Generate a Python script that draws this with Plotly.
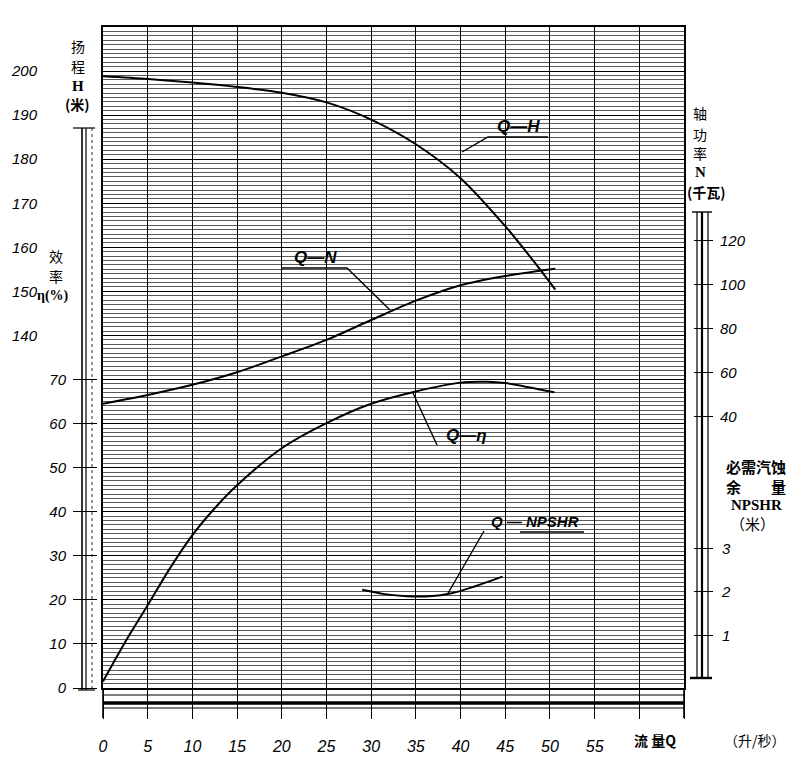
import plotly.graph_objects as go

# ---------------- data ----------------
Q_H = [0, 5, 10, 15, 20, 25, 30, 35, 40, 45, 48, 50.6]
H_m = [198.8, 198.2, 197.4, 196.4, 195.1, 192.9, 189.0, 183.4, 175.7, 164.8, 157.3, 150.4]

Q_N = [0, 5, 10, 15, 20, 25, 30, 35, 40, 45, 50.6]
N_kw = [46.0, 50.0, 54.6, 60.3, 67.5, 75.0, 84.0, 92.8, 99.8, 104.0, 107.3]

Q_eta = [0, 2.5, 5, 7.5, 10, 12.5, 15, 20, 25, 30, 35, 40, 43, 45, 50.5]
eta_pct = [1.5, 10.5, 18.8, 27.2, 34.7, 40.8, 46.0, 54.4, 60.1, 64.5, 67.3, 69.3, 69.5, 69.2, 67.1]

Q_npsh = [29, 31.5, 34, 36.5, 39, 41.5, 44.7]
NPSHR_m = [2.05, 1.95, 1.9, 1.9, 1.97, 2.12, 2.35]

x_ticks = [0, 5, 10, 15, 20, 25, 30, 35, 40, 45, 50, 55, 60, 65]
x_ticktext = ["0", "5", "10", "15", "20", "25", "30", "35", "40", "45", "50", "55", "", ""]
eta_ticks = [0, 10, 20, 30, 40, 50, 60, 70]
H_ticks = [140, 150, 160, 170, 180, 190, 200]
N_ticks = [40, 60, 80, 100, 120]
npsh_ticks = [1, 2, 3]

# ---------------- layout helpers ----------------
W, HGT = 800, 768
X0, X1 = 103, 684      # plot area, pixels
PT, PB = 27, 688


def px(x):
    return x / W


def py(y):
    return (PB - y) / (PB - PT)


HAND = "Liberation Sans"
CJK = "Noto Sans CJK SC"

fig = go.Figure()
line_style = dict(color="black", width=2, shape="spline", smoothing=0.8)
# base axis carries the efficiency data invisibly so that its grid is drawn
fig.add_trace(go.Scatter(x=Q_eta, y=eta_pct, mode="lines", line=dict(width=0, color="rgba(0,0,0,0)"),
                         yaxis="y", hoverinfo="skip", name="grid"))
fig.add_trace(go.Scatter(x=Q_eta, y=eta_pct, mode="lines", line=line_style, yaxis="y2", name="Q-η"))
fig.add_trace(go.Scatter(x=Q_H, y=H_m, mode="lines", line=line_style, yaxis="y3", name="Q-H"))
fig.add_trace(go.Scatter(x=Q_N, y=N_kw, mode="lines", line=line_style, yaxis="y4", name="Q-N"))
fig.add_trace(go.Scatter(x=Q_npsh, y=NPSHR_m, mode="lines", line=line_style, yaxis="y5", name="Q-NPSHR"))

tick_font = dict(family=HAND, size=15, color="black", style="italic")

fig.update_layout(
    template="none",
    width=W, height=HGT,
    margin=dict(l=0, r=0, t=PT, b=HGT - PB, pad=0, autoexpand=False),
    paper_bgcolor="white", plot_bgcolor="rgba(0,0,0,0)",
    showlegend=False,
    xaxis=dict(domain=[px(X0), px(X1)], range=[0, 65], tickvals=x_ticks, ticktext=x_ticktext,
               showgrid=True, gridcolor="black", gridwidth=1.3, automargin=False,
               ticks="outside", ticklen=29, tickwidth=1, tickcolor="black",
               ticklabelstandoff=14, tickfont=dict(family=HAND, size=16, color="black", style="italic"),
               showline=True, mirror=True, linecolor="black", linewidth=2, zeroline=False),
    yaxis=dict(range=[0, 150], dtick=10, showticklabels=False, ticks="",
               showgrid=True, gridcolor="black", gridwidth=1.4, automargin=False,
               minor=dict(dtick=1, showgrid=True, gridcolor="#5a5a5a", gridwidth=0.7),
               showline=True, mirror=True, linecolor="black", linewidth=2, zeroline=False),
    yaxis2=dict(overlaying="y", range=[0, 150], anchor="free", position=px(97), side="left",
                tickvals=eta_ticks, ticks="outside", ticklen=24, tickwidth=1, tickcolor="black",
                ticklabelstandoff=4,
                tickfont=tick_font, showgrid=False, showline=False, zeroline=False, automargin=False),
    yaxis3=dict(overlaying="y", range=[60, 210], anchor="free", position=px(97), side="left",
                tickvals=H_ticks, ticks="outside", ticklen=57, tickcolor="rgba(0,0,0,0)",
                tickfont=tick_font, showgrid=False, showline=False, zeroline=False, automargin=False),
    yaxis4=dict(overlaying="y", range=[-83, 217], anchor="free", position=px(693), side="right",
                tickvals=N_ticks, ticks="outside", ticklen=19, tickwidth=1, tickcolor="black",
                ticklabelstandoff=4,
                tickfont=tick_font, showgrid=False, showline=False, zeroline=False, automargin=False),
    yaxis5=dict(overlaying="y", range=[-2 / 9.9, (150 - 2) / 9.9], anchor="free", position=px(693),
                side="right", tickvals=npsh_ticks, ticks="outside", ticklen=19, tickwidth=1,
                ticklabelstandoff=6,
                tickcolor="black", tickfont=tick_font, showgrid=False, showline=False, zeroline=False,
                automargin=False),
)

shapes = []


def seg(x0, y0, x1, y1, w=1.2, dash="solid"):
    shapes.append(dict(type="line", xref="paper", yref="paper", x0=px(x0), y0=py(y0),
                       x1=px(x1), y1=py(y1), line=dict(color="black", width=w, dash=dash)))


def poly(points, w=1.2):
    d = "M " + " L ".join(f"{px(a)},{py(b)}" for a, b in points)
    shapes.append(dict(type="path", xref="paper", yref="paper", path=d,
                       line=dict(color="black", width=w)))


# left double bar
seg(82, 128, 82, 690, 1.6)
seg(86, 128, 86, 690, 1.2)
seg(92, 128, 92, 690, 0.8, "dot")
seg(73, 128, 95, 128, 1.2)
seg(78, 690, 95, 690, 1.2)
# right double bar
seg(697, 212, 697, 678, 1.2)
seg(702, 212, 702, 678, 2.2)
seg(708, 212, 708, 678, 1.2)
seg(692, 212, 712, 212, 1.4)
seg(690, 678, 712, 678, 2.4)
# bottom ruler band
seg(X0, 695, X1, 695, 1.2)
seg(X0, 703, X1, 703, 3.5)
seg(X0, 708, X1, 708, 1.0)
seg(X0, 690, X0, 718, 1.6)
seg(X1, 690, X1, 718, 1.6)
# leader lines for curve labels
poly([(462, 152), (488, 137), (548, 137)], 1.4)
poly([(282, 268), (347, 268), (390, 310)], 1.4)
poly([(437, 445), (413, 393)], 1.4)
poly([(447, 595), (484, 531)], 1.4)
seg(520, 532, 584, 532, 1.4)
fig.update_layout(shapes=shapes)

anns = []


def ann(x, y, text, size=14, family=CJK, bold=False, italic=False, xanchor="center"):
    f = dict(family=family, size=size, color="black")
    if bold:
        f["weight"] = "bold"
    if italic:
        f["style"] = "italic"
    anns.append(dict(x=px(x), y=py(y), xref="paper", yref="paper", text=text, showarrow=False,
                     xanchor=xanchor, yanchor="middle", font=f))


# left axis titles
ann(78, 46, "扬", 14)
ann(78, 66, "程", 14)
ann(78, 86, "H", 15, "Liberation Serif", bold=True)
ann(77, 104, "(米)", 14, bold=True)
ann(56, 256, "效", 14)
ann(56, 276, "率", 14)
ann(53, 296, "η(%)", 14, "Liberation Serif", bold=True)
# right axis titles
ann(700, 113, "轴", 14)
ann(700, 134, "功", 14)
ann(700, 153, "率", 14)
ann(700, 172, "N", 15, "Liberation Serif", bold=True)
ann(706, 192, "(千瓦)", 14, bold=True)
ann(756, 466, "必需汽蚀", 15, bold=True)
ann(756, 486, "余　　量", 15, bold=True)
ann(756, 505, "NPSHR", 15, "Liberation Serif", bold=True)
ann(752, 523, "（米）", 15)
# x axis title
ann(655, 740, "流 量Q", 14, bold=True)
ann(755, 740, "（升/秒）", 14)
# curve labels
ann(518, 126, "Q—H", 17, HAND, bold=True, italic=True)
ann(315, 257, "Q—N", 17, HAND, bold=True, italic=True)
ann(466, 435, "Q—η", 17, HAND, bold=True, italic=True)
ann(535, 521, "Q — NPSHR", 15, HAND, bold=True, italic=True)
fig.update_layout(annotations=anns)

fig.write_html("out.html", config={"displayModeBar": False},
               post_script="document.body.style.margin='0px';")
